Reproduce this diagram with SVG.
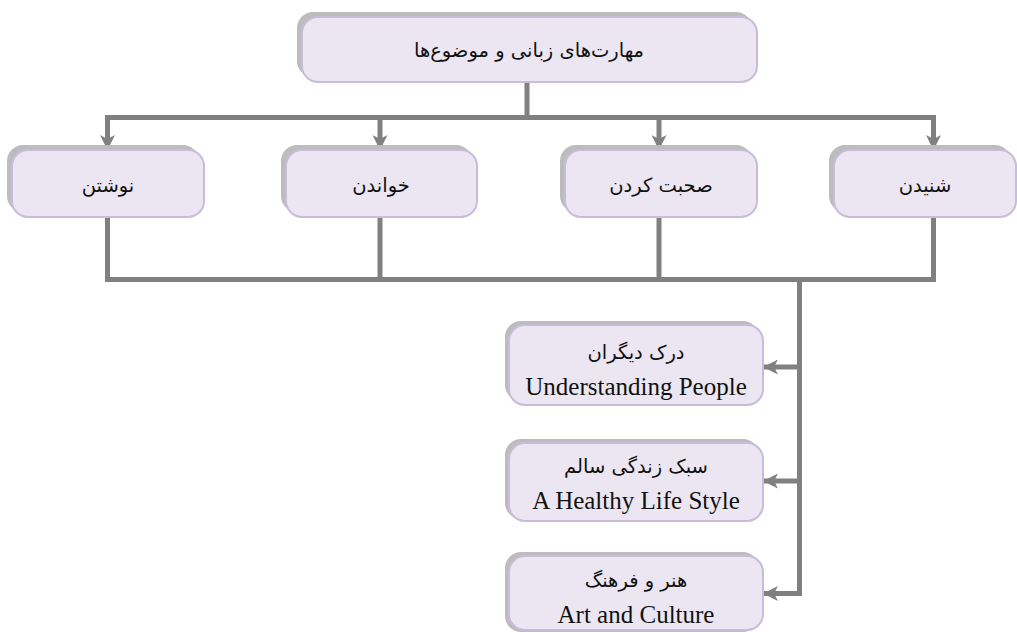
<svg xmlns="http://www.w3.org/2000/svg" width="1017" height="632" viewBox="0 0 1017 632">
<defs>
<marker id="arr" viewBox="0 0 15 15" refX="14" refY="7.5" markerWidth="15" markerHeight="15" markerUnits="userSpaceOnUse" orient="auto">
<path d="M0,0 L15,7.5 L0,15 L4,7.5 Z" fill="#808080"/>
</marker>
</defs>
<style>
.sh{fill:#bcbcbc;}
.bx{fill:#ebe6f1;stroke:#c9bcdb;stroke-width:2;}
.fa{font-family:"DejaVu Sans","Noto Sans",sans-serif;font-size:19.5px;fill:#111;text-anchor:middle;}
.en{font-family:"Liberation Serif",serif;font-size:25px;fill:#111;text-anchor:middle;}
.ln{stroke:#808080;stroke-width:5;fill:none;}
</style>
<rect width="1017" height="632" fill="#fff"/>
<g id="connectors">
<path class="ln" d="M527,82 V117.5"/>
<path class="ln" d="M105,117.5 H936"/>
<path class="ln" d="M107.5,117.5 V149" marker-end="url(#arr)"/>
<path class="ln" d="M380,117.5 V149" marker-end="url(#arr)"/>
<path class="ln" d="M659,117.5 V149" marker-end="url(#arr)"/>
<path class="ln" d="M933.5,117.5 V149" marker-end="url(#arr)"/>
<path class="ln" d="M107.5,217 V279.5 M380,217 V279.5 M659,217 V279.5 M933.5,217 V279.5"/>
<path class="ln" d="M105,279.5 H936"/>
<path class="ln" d="M799.5,279.5 V596"/>
<path class="ln" d="M799.5,367 H764" marker-end="url(#arr)"/>
<path class="ln" d="M799.5,481 H764" marker-end="url(#arr)"/>
<path class="ln" d="M799.5,593.5 H764" marker-end="url(#arr)"/>
</g>
<g id="n-root">
<rect class="sh" x="297" y="12" width="455" height="65" rx="16"/>
<rect class="bx" x="302" y="17" width="455" height="65" rx="16"/>
<text class="fa" x="529" y="57" direction="rtl">مهارت‌های زبانی و موضوع‌ها</text>
</g>
<g id="n-writing">
<rect class="sh" x="7" y="145" width="192" height="67" rx="16"/>
<rect class="bx" x="12" y="150" width="192" height="67" rx="16"/>
<text class="fa" x="108" y="192" direction="rtl">نوشتن</text>
</g>
<g id="n-reading">
<rect class="sh" x="281" y="145" width="191" height="67" rx="16"/>
<rect class="bx" x="286" y="150" width="191" height="67" rx="16"/>
<text class="fa" x="381" y="192" direction="rtl">خواندن</text>
</g>
<g id="n-speaking">
<rect class="sh" x="560" y="145" width="192" height="67" rx="16"/>
<rect class="bx" x="565" y="150" width="192" height="67" rx="16"/>
<text class="fa" x="661" y="192" direction="rtl">صحبت کردن</text>
</g>
<g id="n-listening">
<rect class="sh" x="829" y="145" width="182" height="67" rx="16"/>
<rect class="bx" x="834" y="150" width="182" height="67" rx="16"/>
<text class="fa" x="925" y="192" direction="rtl">شنیدن</text>
</g>
<g id="n-understanding">
<rect class="sh" x="505" y="321" width="254" height="80" rx="16"/>
<rect class="bx" x="509" y="325" width="254" height="80" rx="16"/>
<text class="fa" x="636" y="359" direction="rtl">درک دیگران</text>
<text class="en" x="636" y="395">Understanding People</text>
</g>
<g id="n-healthy">
<rect class="sh" x="505" y="439" width="254" height="80" rx="16"/>
<rect class="bx" x="509" y="443" width="254" height="78" rx="16"/>
<text class="fa" x="636" y="473" direction="rtl">سبک زندگی سالم</text>
<text class="en" x="636" y="509">A Healthy Life Style</text>
</g>
<g id="n-art">
<rect class="sh" x="505" y="552" width="254" height="80" rx="16"/>
<rect class="bx" x="509" y="556" width="254" height="74" rx="16"/>
<text class="fa" x="636" y="587" direction="rtl">هنر و فرهنگ</text>
<text class="en" x="636" y="623">Art and Culture</text>
</g>
</svg>
